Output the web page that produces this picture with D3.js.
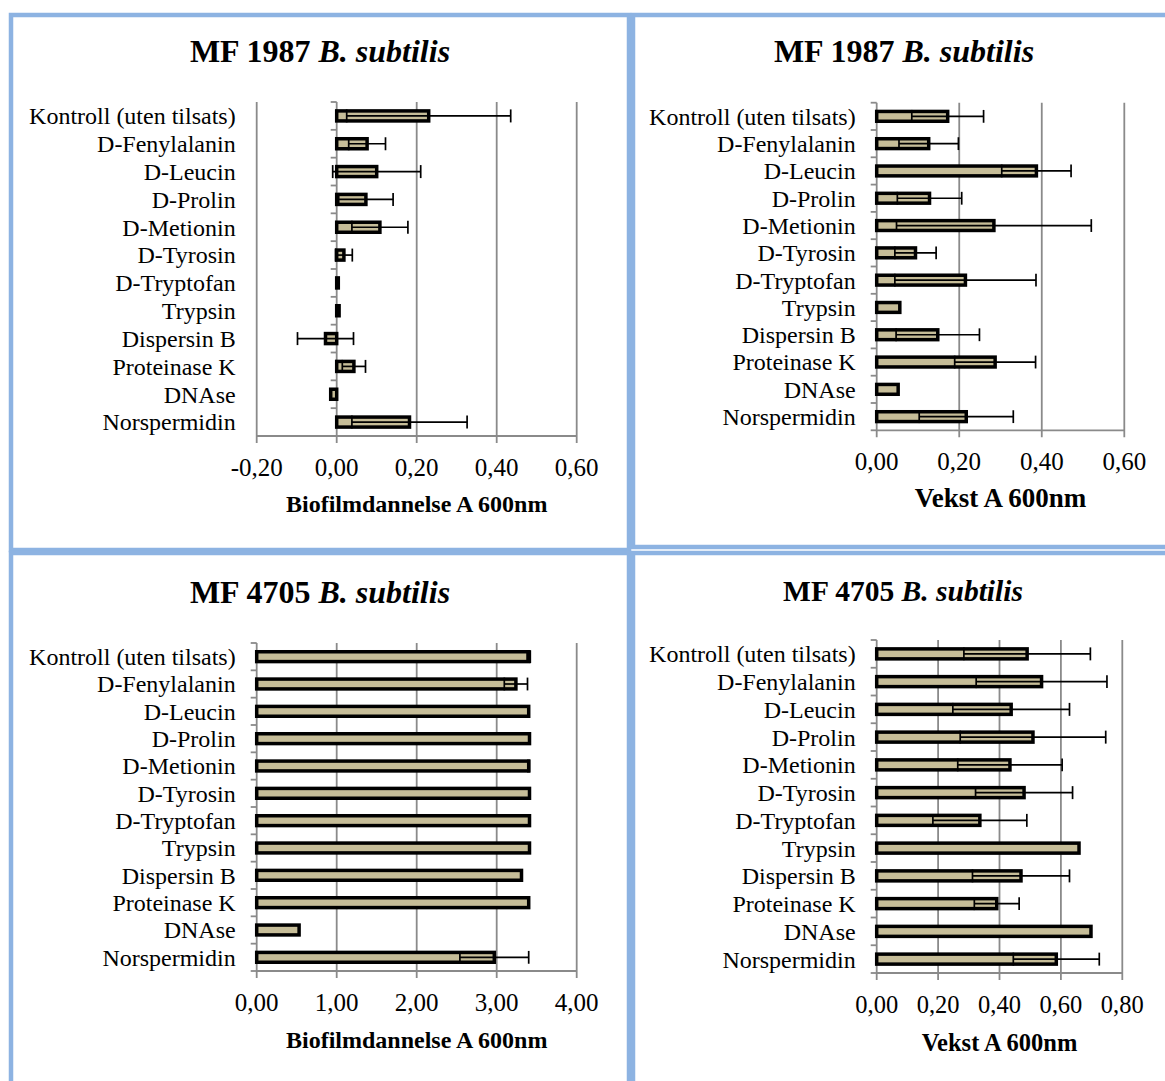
<!DOCTYPE html>
<html>
<head>
<meta charset="utf-8">
<script src="https://cdn.jsdelivr.net/npm/d3@7"></script>
<style>
  body { margin: 0; background: #fff; }
  svg { display: block; }
  text { font-family: "Liberation Serif", "Times New Roman", serif; fill: #000; }
</style>
</head>
<body>
<svg id="fig" width="1165" height="1081"></svg>
<script>
// Treatments, top to bottom
const categories = [
  "Kontroll (uten tilsats)", "D-Fenylalanin", "D-Leucin", "D-Prolin",
  "D-Metionin", "D-Tyrosin", "D-Tryptofan", "Trypsin",
  "Dispersin B", "Proteinase K", "DNAse", "Norspermidin"
];

// MF 1987 – biofilm formation (A 600nm), mean and error
const mf1987BiofilmMeans  = [0.230, 0.076, 0.100, 0.073, 0.108, 0.018, 0.004, 0.006, -0.028, 0.043, -0.015, 0.182];
const mf1987BiofilmErrors = [0.205, 0.046, 0.110, 0.068, 0.070, 0.021, 0.000, 0.000, 0.070, 0.029, 0.000, 0.144];

// MF 1987 – growth (A 600nm)
const mf1987GrowthMeans  = [0.172, 0.126, 0.387, 0.128, 0.284, 0.094, 0.215, 0.056, 0.148, 0.287, 0.052, 0.217];
const mf1987GrowthErrors = [0.087, 0.072, 0.084, 0.078, 0.236, 0.050, 0.171, 0.000, 0.101, 0.098, 0.000, 0.114];

// MF 4705 – biofilm formation (A 600nm)
const mf4705BiofilmMeans  = [3.40, 3.24, 3.40, 3.41, 3.40, 3.41, 3.41, 3.41, 3.31, 3.40, 0.53, 2.97];
const mf4705BiofilmErrors = [0.02, 0.145, 0.00, 0.00, 0.01, 0.00, 0.00, 0.00, 0.00, 0.00, 0.00, 0.43];

// MF 4705 – growth (A 600nm)
const mf4705GrowthMeans  = [0.490, 0.537, 0.438, 0.509, 0.434, 0.480, 0.336, 0.659, 0.470, 0.391, 0.698, 0.585];
const mf4705GrowthErrors = [0.206, 0.213, 0.190, 0.237, 0.170, 0.158, 0.153, 0.000, 0.158, 0.073, 0.000, 0.140];

// Axis tick values
const biofilm1987Ticks = [-0.2, 0, 0.2, 0.4, 0.6];
const growth1987Ticks  = [0, 0.2, 0.4, 0.6];
const biofilm4705Ticks = [0, 1, 2, 3, 4];
const growth4705Ticks  = [0, 0.2, 0.4, 0.6, 0.8];

const BLUE = "#8DB3E2";
const TAN = "#C6BD98";
const GRID = "#8A8A8A";

const nb = d3.formatLocale({ decimal: ",", thousands: " ", grouping: [3], currency: ["", " kr"], minus: "-" });
const fmt = nb.format(".2f");

const svg = d3.select("#fig");

// Panel frames
const frames = [
  { x: 11, y: 15, w: 618, h: 535 },
  { x: 633, y: 15, w: 560, h: 532 },
  { x: 11, y: 553, w: 618, h: 560 },
  { x: 633, y: 553, w: 560, h: 560 }
];
svg.selectAll("rect.frame").data(frames).join("rect")
  .attr("class", "frame")
  .attr("x", d => d.x).attr("y", d => d.y)
  .attr("width", d => d.w).attr("height", d => d.h)
  .attr("fill", "#fff").attr("stroke", BLUE).attr("stroke-width", 4.5);

const charts = [
  { strain: "MF 1987", means: mf1987BiofilmMeans, errors: mf1987BiofilmErrors, ticks: biofilm1987Ticks,
    axisTitle: "Biofilmdannelse A 600nm",
    x0: 256.7, x1: 576.7, y0: 102, y1: 436, titleX: 320, titleY: 62, titleSize: 32,
    tickSize: 25, axisTitleY: 512, axisTitleSize: 24 },
  { strain: "MF 1987", means: mf1987GrowthMeans, errors: mf1987GrowthErrors, ticks: growth1987Ticks,
    axisTitle: "Vekst A 600nm",
    x0: 876.7, x1: 1124.3, y0: 102.7, y1: 430.3, titleX: 904, titleY: 62, titleSize: 32,
    tickSize: 25, axisTitleY: 507, axisTitleSize: 27 },
  { strain: "MF 4705", means: mf4705BiofilmMeans, errors: mf4705BiofilmErrors, ticks: biofilm4705Ticks,
    axisTitle: "Biofilmdannelse A 600nm",
    x0: 256.7, x1: 576.7, y0: 643, y1: 971, titleX: 320, titleY: 603, titleSize: 32,
    tickSize: 25, axisTitleY: 1048, axisTitleSize: 24 },
  { strain: "MF 4705", means: mf4705GrowthMeans, errors: mf4705GrowthErrors, ticks: growth4705Ticks,
    axisTitle: "Vekst A 600nm",
    x0: 876.7, x1: 1122.3, y0: 640, y1: 973, titleX: 903, titleY: 601, titleSize: 29.5,
    tickSize: 24.5, axisTitleY: 1051, axisTitleSize: 24.5 }
];

charts.forEach(c => {
  const g = svg.append("g");
  const ticks = c.ticks;
  const x = d3.scaleLinear().domain([ticks[0], ticks[ticks.length - 1]]).range([c.x0, c.x1]);
  const y = d3.scaleBand().domain(categories).range([c.y0, c.y1]).paddingInner(0).paddingOuter(0);
  const bw = y.bandwidth();
  const barH = bw * 0.36;

  // Title
  const t = g.append("text")
    .attr("x", c.titleX).attr("y", c.titleY)
    .attr("text-anchor", "middle")
    .attr("font-size", c.titleSize).attr("font-weight", "bold");
  t.append("tspan").text(c.strain + " ");
  t.append("tspan").attr("font-style", "italic").text("B. subtilis");

  // Vertical gridlines, with small tick marks under the axis
  g.append("g").selectAll("line").data(ticks).join("line")
    .attr("x1", d => x(d)).attr("x2", d => x(d))
    .attr("y1", c.y0).attr("y2", c.y1 + 7)
    .attr("stroke", GRID).attr("stroke-width", 1.8);

  // Horizontal axis line
  g.append("line")
    .attr("x1", c.x0).attr("x2", c.x1)
    .attr("y1", c.y1).attr("y2", c.y1)
    .attr("stroke", GRID).attr("stroke-width", 1.8);

  // Category axis at zero with tick marks between categories
  const zx = x(0);
  const bounds = categories.map(d => y(d)).concat([c.y1]);
  g.append("g").selectAll("line").data(bounds).join("line")
    .attr("x1", zx - 6).attr("x2", zx)
    .attr("y1", d => d).attr("y2", d => d)
    .attr("stroke", GRID).attr("stroke-width", 1.8);

  // Tick labels
  g.append("g").selectAll("text").data(ticks).join("text")
    .attr("x", d => x(d)).attr("y", c.y1 + 40)
    .attr("text-anchor", "middle")
    .attr("font-size", c.tickSize)
    .text(d => fmt(d));

  // Axis title
  g.append("text")
    .attr("x", (c.x0 + c.x1) / 2).attr("y", c.axisTitleY)
    .attr("text-anchor", "middle")
    .attr("font-size", c.axisTitleSize).attr("font-weight", "bold")
    .text(c.axisTitle);

  // Category labels
  g.append("g").selectAll("text").data(categories).join("text")
    .attr("x", c.x0 - 21)
    .attr("y", d => y(d) + bw / 2)
    .attr("dy", "0.35em")
    .attr("text-anchor", "end")
    .attr("font-size", 24)
    .text(d => d);

  const rows = categories.map((cat, i) => ({ cat, v: c.means[i], e: c.errors[i] }));

  // Bars
  g.append("g").selectAll("rect").data(rows).join("rect")
    .attr("x", d => x(Math.min(0, d.v)))
    .attr("width", d => Math.abs(x(d.v) - x(0)))
    .attr("y", d => y(d.cat) + (bw - barH) / 2)
    .attr("height", barH)
    .attr("fill", TAN).attr("stroke", "#000").attr("stroke-width", 3.5);

  // Error bars
  const eb = g.append("g").selectAll("g").data(rows.filter(d => d.e > 0)).join("g")
    .attr("stroke", "#000").attr("stroke-width", 1.7);
  const cap = barH / 2 + 1.5;
  eb.append("line")
    .attr("x1", d => x(d.v - d.e)).attr("x2", d => x(d.v + d.e))
    .attr("y1", d => y(d.cat) + bw / 2).attr("y2", d => y(d.cat) + bw / 2);
  eb.append("line")
    .attr("x1", d => x(d.v - d.e)).attr("x2", d => x(d.v - d.e))
    .attr("y1", d => y(d.cat) + bw / 2 - cap).attr("y2", d => y(d.cat) + bw / 2 + cap);
  eb.append("line")
    .attr("x1", d => x(d.v + d.e)).attr("x2", d => x(d.v + d.e))
    .attr("y1", d => y(d.cat) + bw / 2 - cap).attr("y2", d => y(d.cat) + bw / 2 + cap);
});
</script>
</body>
</html>
